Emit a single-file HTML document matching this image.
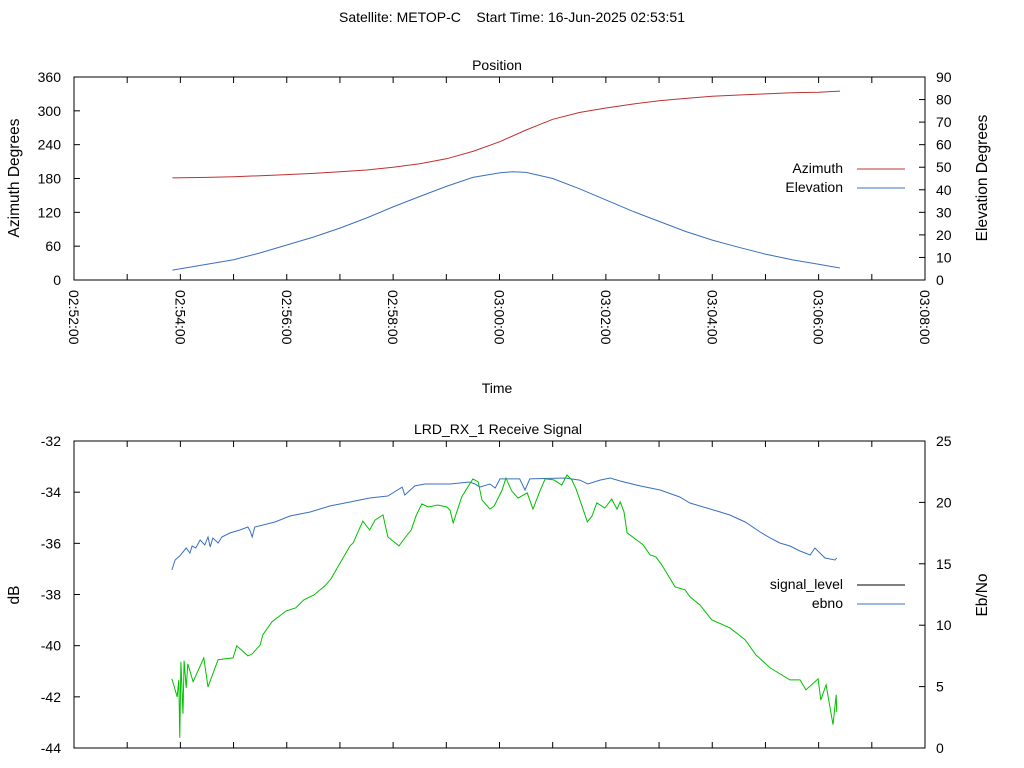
<!DOCTYPE html>
<html><head><meta charset="utf-8"><style>
html,body{margin:0;padding:0;background:#fff;}
svg{display:block;font-family:"Liberation Sans",sans-serif;font-size:14px;}
text{white-space:pre;}
</style></head><body>
<svg id="chart" width="1024" height="768" viewBox="0 0 1024 768">
<text x="512" y="22" text-anchor="middle" xml:space="preserve">Satellite: METOP-C    Start Time: 16-Jun-2025 02:53:51</text>
<g id="g1"></g>
<g id="g2"></g>
</svg>
<script>
// minutes after 02:52:00
const xTickLabels = ["02:52:00","02:54:00","02:56:00","02:58:00","03:00:00","03:02:00","03:04:00","03:06:00","03:08:00"];
const azTicks = [0,60,120,180,240,300,360];
const elTicks = [0,10,20,30,40,50,60,70,80,90];
const dbTicks = [-44,-42,-40,-38,-36,-34,-32];
const ebTicks = [0,5,10,15,20,25];

const azTime = [1.85,2.5,3,3.5,4,4.5,5,5.5,6,6.5,7,7.5,8,8.5,9,9.5,10,10.5,11,11.5,12,12.5,13,13.5,14,14.4];
const azVal  = [181,182,183,185,187,189,192,195,200,206,215,228,245,266,285,297,305,312,318,322,326,328,330,332,333,335];
const elTime = [1.85,2.5,3,3.5,4,4.5,5,5.5,6,6.5,7,7.5,8,8.25,8.5,9,9.5,10,10.5,11,11.5,12,12.5,13,13.5,14,14.4];
const elVal  = [4.4,7,9,12,15.5,19,23,27.5,32.4,37,41.5,45.5,47.5,48,47.7,45,40.5,35.5,30.5,26,21.5,17.7,14.5,11.5,9,7,5.3];

const sigTime = [1.84,1.94,1.97,1.99,2.01,2.05,2.07,2.11,2.14,2.24,2.44,2.52,2.71,2.99,3.06,3.27,3.35,3.5,3.55,3.72,3.99,4.17,4.32,4.51,4.72,4.83,4.94,5.19,5.25,5.43,5.56,5.66,5.81,5.9,6.11,6.22,6.34,6.43,6.54,6.66,6.84,7.01,7.07,7.13,7.29,7.39,7.5,7.6,7.67,7.82,7.9,8.05,8.12,8.23,8.35,8.52,8.63,8.76,8.86,9.02,9.17,9.27,9.36,9.44,9.57,9.65,9.74,9.83,9.98,10.11,10.21,10.27,10.34,10.4,10.7,10.83,10.94,11.05,11.3,11.49,11.58,11.77,11.99,12.33,12.62,12.82,13.09,13.46,13.65,13.76,13.99,14.04,14.14,14.27,14.33,14.34];
const sigVal = [-41.3,-42,-41.34,-43.6,-40.63,-42.66,-40.59,-41.65,-40.71,-41.41,-40.48,-41.61,-40.55,-40.48,-40.01,-40.4,-40.32,-39.97,-39.58,-39.07,-38.64,-38.52,-38.21,-38.02,-37.66,-37.39,-37,-36.1,-35.98,-35.13,-35.48,-35.09,-34.89,-35.75,-36.1,-35.79,-35.48,-34.93,-34.46,-34.58,-34.5,-34.58,-34.7,-35.2,-34.19,-33.84,-33.48,-33.6,-34.3,-34.66,-34.54,-33.91,-33.45,-33.95,-34.23,-34.03,-34.66,-33.95,-33.48,-33.52,-33.72,-33.33,-33.52,-33.88,-34.66,-35.16,-34.93,-34.42,-34.62,-34.27,-34.66,-34.38,-34.77,-35.59,-36.06,-36.45,-36.53,-36.84,-37.7,-37.82,-38.09,-38.41,-38.99,-39.3,-39.77,-40.36,-40.87,-41.34,-41.34,-41.73,-41.3,-42.12,-41.53,-43.09,-41.92,-42.59];
const ebTime = [1.84,1.9,1.99,2.11,2.18,2.22,2.29,2.37,2.46,2.52,2.56,2.61,2.71,2.78,2.93,3.12,3.27,3.31,3.35,3.4,3.78,4.06,4.44,4.81,5.19,5.56,5.9,6.17,6.22,6.41,6.6,7.07,7.44,7.54,7.63,7.82,7.92,8.01,8.38,8.48,8.57,9.23,9.51,9.66,9.89,10.08,10.27,10.64,11.02,11.39,11.58,11.77,12.15,12.33,12.62,12.9,13.09,13.27,13.46,13.65,13.84,13.93,14.12,14.31,14.34];
const ebVal  = [14.5,15.31,15.64,16.29,15.88,16.45,16.29,16.94,16.53,17.18,16.37,17.1,16.69,17.18,17.51,17.75,18,17.67,17.18,18,18.4,18.89,19.22,19.71,20.03,20.36,20.52,21.25,20.6,21.34,21.5,21.5,21.66,21.5,21.25,21.5,21.17,21.91,21.91,21.01,21.91,21.99,21.82,21.5,21.82,21.99,21.74,21.34,21.01,20.44,19.95,19.71,19.22,18.97,18.4,17.59,17.1,16.69,16.45,16.04,15.72,16.29,15.47,15.31,15.47];

const NS="http://www.w3.org/2000/svg";
const X0=74, X1=925, TMAX=16;
const xs = t => X0 + (X1-X0)*t/TMAX;
function mk(parent, tag, attrs, text){
  const e=document.createElementNS(NS,tag);
  for(const k in attrs) e.setAttribute(k,attrs[k]);
  if(text!==undefined) e.textContent=text;
  parent.appendChild(e); return e;
}
function plot(g, top, bot, lMin, lMax, rMin, rMax, lTicks, rTicks, showX){
  const yl=v=>bot-(bot-top)*(v-lMin)/(lMax-lMin);
  const yr=v=>bot-(bot-top)*(v-rMin)/(rMax-rMin);
  const fr=mk(g,'rect',{x:X0,y:top,width:X1-X0,height:bot-top,fill:'none',stroke:'#000','stroke-width':1});
  
  
  for(let m=0;m<=TMAX;m++){
    const x=xs(m);
    const t1=mk(g,'line',{x1:x,x2:x,y1:bot,y2:bot-6,stroke:'#000'});
    
    
    mk(g,'line',{x1:x,x2:x,y1:top,y2:top+6,stroke:'#000'});
    if(showX && m%2===0){
      const lb=mk(g,'text',{x:0,y:0,transform:`translate(${x-5},${bot+10}) rotate(90)`},xTickLabels[m/2]);
      
      
    }
  }
  lTicks.forEach(v=>{
    const y=yl(v);
    mk(g,'line',{x1:X0,x2:X0+6,y1:y,y2:y,stroke:'#000'});
    const t=mk(g,'text',{x:61,y:y+5,'text-anchor':'end'},v);
    
    
  });
  rTicks.forEach(v=>{
    const y=yr(v);
    mk(g,'line',{x1:X1,x2:X1-6,y1:y,y2:y,stroke:'#000'});
    const t=mk(g,'text',{x:936,y:y+5},v);
    
    
  });
  return {yl,yr};
}
function line(g, ts, vs, yf, color, name){
  const p=ts.map((t,i)=>xs(t).toFixed(1)+','+yf(vs[i]).toFixed(1)).join(' ');
  const e=mk(g,'polyline',{points:p,fill:'none',stroke:color,'stroke-width':1});
  
  
}
function txt(g,x,y,s,name,extra){
  const e=mk(g,'text',Object.assign({x,y},extra||{}),s);
  
  
  return e;
}
const g1=document.getElementById('g1'), g2=document.getElementById('g2');
const a=plot(g1,77,280,0,360,0,90,azTicks,elTicks,true);
line(g1,azTime,azVal,a.yl,'#c03030','azimuth-line');
line(g1,elTime,elVal,a.yr,'#3a70c0','elevation-line');
txt(g1,497,70,'Position','position-title',{'text-anchor':'middle'});
txt(g1,0,0,'Azimuth Degrees','left-axis-title',{transform:'translate(19,178) rotate(-90)','text-anchor':'middle','font-size':'15.5'});
txt(g1,0,0,'Elevation Degrees','right-axis-title',{transform:'translate(987,178) rotate(-90)','text-anchor':'middle','font-size':'15.5'});
txt(g1,497,393,'Time','x-axis-title',{'text-anchor':'middle'});
txt(g1,843,173,'Azimuth','legend-azimuth',{'text-anchor':'end'});
mk(g1,'line',{x1:857,x2:905,y1:169,y2:169,stroke:'#c03030'});
txt(g1,843,192,'Elevation','legend-elevation',{'text-anchor':'end'});
mk(g1,'line',{x1:857,x2:905,y1:188,y2:188,stroke:'#3a70c0'});

const b=plot(g2,441,748,-44,-32,0,25,dbTicks,ebTicks,false);
line(g2,ebTime,ebVal,b.yr,'#3a70c0','ebno-line');
line(g2,sigTime,sigVal,b.yl,'#00c000','signal-level-line');
txt(g2,498,434,'LRD_RX_1 Receive Signal','signal-title',{'text-anchor':'middle'});
txt(g2,0,0,'dB','left-axis-title',{transform:'translate(19,595) rotate(-90)','text-anchor':'middle','font-size':'15.5'});
txt(g2,0,0,'Eb/No','right-axis-title',{transform:'translate(987,595) rotate(-90)','text-anchor':'middle','font-size':'15.5'});
txt(g2,843,589,'signal_level','legend-signal-level',{'text-anchor':'end'});
mk(g2,'line',{x1:857,x2:905,y1:585,y2:585,stroke:'#000'});
txt(g2,843,608,'ebno','legend-ebno',{'text-anchor':'end'});
mk(g2,'line',{x1:857,x2:905,y1:604,y2:604,stroke:'#3a70c0'});
</script>
</body></html>
